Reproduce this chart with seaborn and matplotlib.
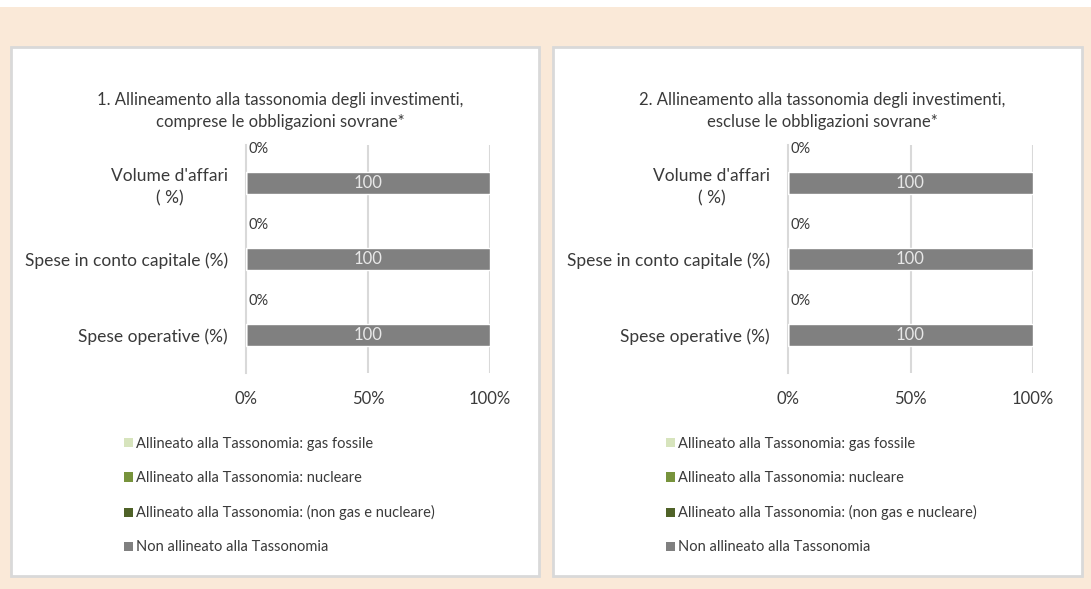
import matplotlib
matplotlib.use("Agg")
import matplotlib.pyplot as plt
import seaborn as sns
import pandas as pd
import numpy as np
from matplotlib.patches import Rectangle, Patch

# ----- DATI -----
categorie = ["Volume d'affari\n( %)", "Spese in conto capitale (%)", "Spese operative (%)"]
serie = ["Allineato alla Tassonomia: gas fossile",
         "Allineato alla Tassonomia: nucleare",
         "Allineato alla Tassonomia: (non gas e nucleare)",
         "Non allineato alla Tassonomia"]
colori = ["#D7E4BD", "#77933C", "#4F6228", "#808080"]

# pannello 1: comprese obbligazioni sovrane
gas_1 = [0, 0, 0]
nucleare_1 = [0, 0, 0]
altro_1 = [0, 0, 0]
non_allineato_1 = [100, 100, 100]

# pannello 2: escluse obbligazioni sovrane
gas_2 = [0, 0, 0]
nucleare_2 = [0, 0, 0]
altro_2 = [0, 0, 0]
non_allineato_2 = [100, 100, 100]

titoli = ["1. Allineamento alla tassonomia degli investimenti,\ncomprese le obbligazioni sovrane*",
          "2. Allineamento alla tassonomia degli investimenti,\nescluse le obbligazioni sovrane*"]
xtick_vals = [0, 50, 100]
xtick_labels = ["0%", "50%", "100%"]

CREMA = "#FAE9D8"
GRIGIO_LINEE = "#D9D9D9"
TESTO = "#3A3A3A"

sns.set_style("white")
plt.rcParams['font.family'] = ['Lato', 'DejaVu Sans']

W, H = 1091, 589
fig = plt.figure(figsize=(W / 100, H / 100), dpi=100, facecolor=CREMA)

# striscia bianca in alto
fig.patches.append(Rectangle((0, 1 - 7 / H), 1, 7 / H, transform=fig.transFigure,
                             facecolor="white", edgecolor="none", zorder=-2))

# pannelli bianchi con bordo
pannelli = [(11, 47, 539, 576), (553, 47, 1082, 576)]
for (x0, y0, x1, y1) in pannelli:
    fig.patches.append(Rectangle((x0 / W, 1 - y1 / H), (x1 - x0) / W, (y1 - y0) / H,
                                 transform=fig.transFigure, facecolor="white",
                                 edgecolor=GRIGIO_LINEE, linewidth=2, zorder=-2))


def disegna(ax, valori, titolo, pannello, legend_x):
    df = pd.DataFrame({"categoria": categorie})
    for nome, v in zip(serie, valori):
        df[nome] = v
    # somme cumulative per impilare (ordine inverso per sovrapporre)
    cum = df[serie].cumsum(axis=1)
    for k in range(len(serie) - 1, -1, -1):
        sns.barplot(x=cum[serie[k]], y=df["categoria"], color=colori[k], orient="h",
                    width=0.29, ax=ax, saturation=1, zorder=3)

    allineato = df[serie[:3]].sum(axis=1)
    for i, v in enumerate(allineato):
        ax.text(v + 1, i - 0.45, f"{v:.0f}%", ha="left", va="center",
                fontsize=10.5, color=TESTO, zorder=4)
    inizio = allineato.values
    for i, v in enumerate(df[serie[3]]):
        ax.text(inizio[i] + v / 2, i, f"{v:.0f}", ha="center", va="center",
                fontsize=12, color="#E8E8E8", zorder=4)

    ax.set_xlim(0, 100)
    ax.set_ylim(len(categorie) - 0.5, -0.5)
    ax.set_xticks(xtick_vals)
    ax.set_xticklabels(xtick_labels, fontsize=12, color=TESTO)
    ax.tick_params(axis="x", length=0, pad=13)
    ax.set_yticks(range(len(categorie)))
    ax.set_yticklabels(categorie, fontsize=12.5, color=TESTO, ha="right", multialignment="center")
    for t in ax.get_yticklabels():
        t.set_linespacing(1.45)
    ax.tick_params(axis="y", length=0, pad=13)
    ax.set_yticks(np.arange(-0.5, len(categorie), 1), minor=True)
    ax.tick_params(axis="y", which="minor", length=5, color=GRIGIO_LINEE, width=1.5)
    ax.set_xlabel("")
    ax.set_ylabel("")
    for s in ["top", "right", "bottom"]:
        ax.spines[s].set_visible(False)
    ax.spines["left"].set_color(GRIGIO_LINEE)
    ax.spines["left"].set_linewidth(1.5)
    for xv in xtick_vals[1:]:
        ax.axvline(xv, color=GRIGIO_LINEE, linewidth=1.5, zorder=1)
    ax.set_facecolor("none")

    x0, y0, x1, y1 = pannello
    fig.text(((x0 + x1) / 2 + 5) / W, 1 - 111 / H, titolo, ha="center", va="center",
             fontsize=12, color=TESTO, linespacing=1.4)

    handles = [Patch(facecolor=c, edgecolor="none") for c in colori]
    fig.legend(handles, serie, loc="upper left", bbox_to_anchor=(legend_x / W, 1 - 437 / H),
               frameon=False, fontsize=10.5, handlelength=0.6, handleheight=0.6,
               handletextpad=0.2, labelspacing=1.38, borderpad=0, borderaxespad=0,
               labelcolor=TESTO)


ax1 = fig.add_axes([246 / W, 1 - 373 / H, 244 / W, 228 / H])
ax2 = fig.add_axes([788 / W, 1 - 373 / H, 245 / W, 228 / H])

disegna(ax1, [gas_1, nucleare_1, altro_1, non_allineato_1], titoli[0], pannelli[0], 124)
disegna(ax2, [gas_2, nucleare_2, altro_2, non_allineato_2], titoli[1], pannelli[1], 666)

fig.savefig("out.png", dpi=100, facecolor=CREMA)
